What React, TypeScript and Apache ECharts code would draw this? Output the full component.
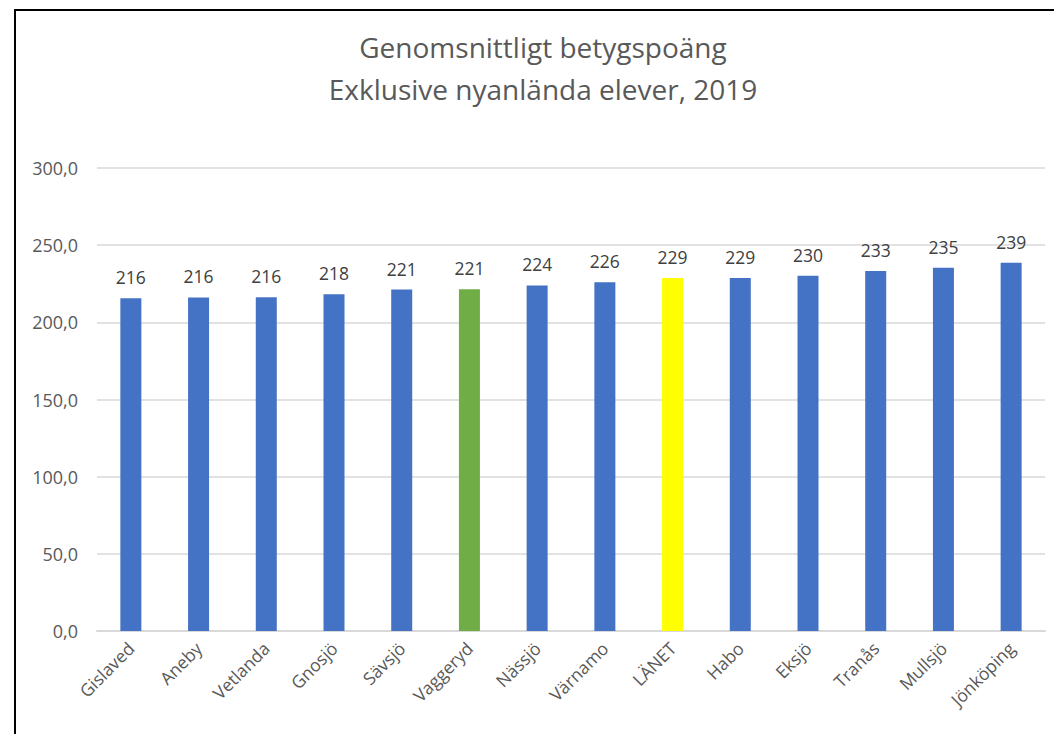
import React, { useEffect, useRef } from "react";
import * as echarts from "echarts";

const categories = ["Gislaved", "Aneby", "Vetlanda", "Gnosjö", "Sävsjö", "Vaggeryd", "Nässjö", "Värnamo", "LÄNET", "Habo", "Eksjö", "Tranås", "Mullsjö", "Jönköping"];
const values = [215.6, 216.1, 216.3, 218.2, 221.2, 221.4, 223.9, 226.0, 228.7, 228.8, 230.2, 233.2, 235.3, 238.6];
const barColors = ["#4472C4", "#4472C4", "#4472C4", "#4472C4", "#4472C4", "#70AD47", "#4472C4", "#4472C4", "#FFFF00", "#4472C4", "#4472C4", "#4472C4", "#4472C4", "#4472C4"];
const titleLines = ["Genomsnittligt betygspoäng", "Exklusive nyanlända elever, 2019"];

const FONT = "'Open Sans', 'Noto Sans', sans-serif";

export default function App() {
  const ref = useRef<HTMLDivElement>(null);
  useEffect(() => {
    if (!ref.current) return;
    const chart = echarts.init(ref.current, null, { renderer: "svg" });
    chart.setOption({
      animation: false,
      backgroundColor: "#ffffff",
      textStyle: { fontFamily: FONT },
      title: {
        text: titleLines.join("\n"),
        left: 538,
        textAlign: "center",
        top: 21,
        textStyle: { fontFamily: FONT, fontSize: 28, fontWeight: "normal", color: "#595959", lineHeight: 42 },
      },
      graphic: [
        {
          type: "rect",
          shape: { x: 15, y: 10, width: 1200, height: 900 },
          style: { fill: "none", stroke: "#000000", lineWidth: 2 },
          silent: true,
          z: 100,
        },
      ],
      grid: { left: 97, right: 9, top: 168, bottom: 103, containLabel: false },
      xAxis: {
        type: "category",
        data: categories,
        axisLine: { show: true, lineStyle: { color: "#d9d9d9", width: 2 } },
        axisTick: { show: false },
        axisLabel: { rotate: 45, color: "#595959", fontSize: 17.5, fontFamily: FONT, margin: 14, interval: 0 },
      },
      yAxis: {
        type: "value",
        min: 0,
        max: 300,
        interval: 50,
        axisLine: { show: false },
        axisTick: { show: false },
        splitLine: { lineStyle: { color: "#d9d9d9", width: 1.5 } },
        axisLabel: {
          color: "#595959",
          fontSize: 18,
          fontFamily: FONT,
          margin: 19,
          formatter: (v: number) => v.toFixed(1).replace(".", ","),
        },
      },
      series: [
        {
          type: "bar",
          barWidth: 21,
          data: values.map((v, i) => ({ value: v, itemStyle: { color: barColors[i] } })),
          label: {
            show: true,
            position: "top",
            distance: 12,
            color: "#404040",
            fontSize: 17.5,
            fontFamily: FONT,
            formatter: (p: any) => Math.round(p.value).toString(),
          },
        },
      ],
    });
    return () => chart.dispose();
  }, []);
  return <div ref={ref} style={{ position: "fixed", left: 0, top: 0, width: 1054, height: 734 }} />;
}
